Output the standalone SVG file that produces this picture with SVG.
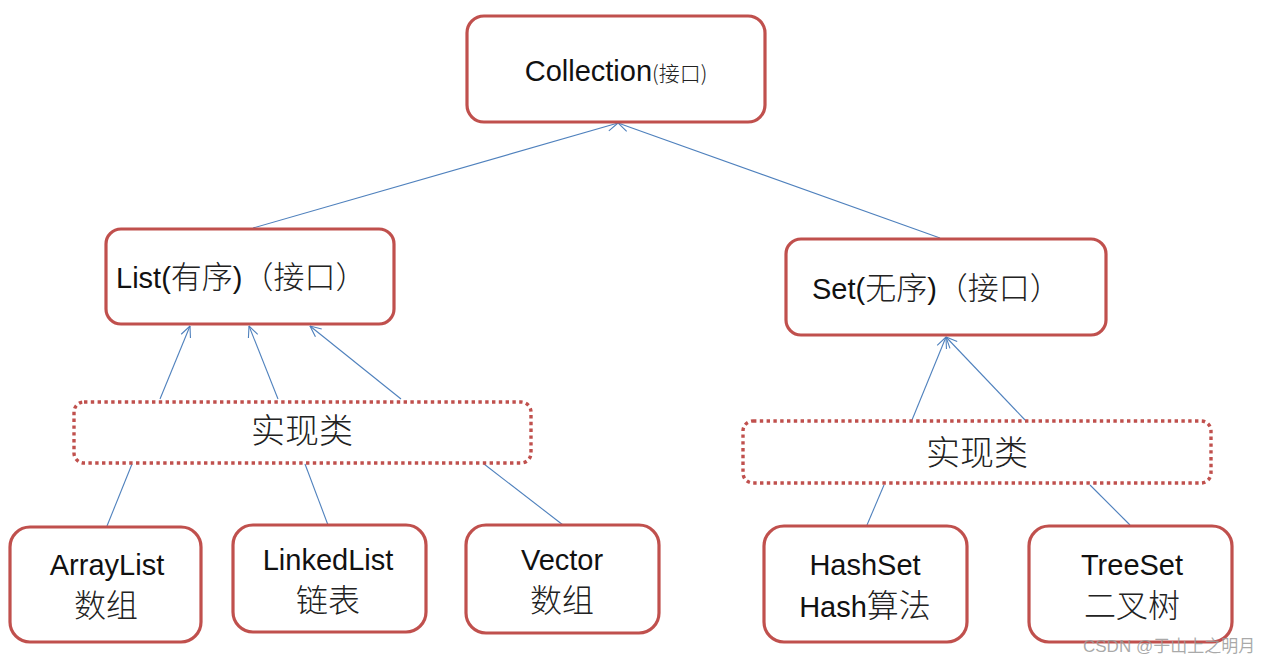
<svg xmlns="http://www.w3.org/2000/svg" width="1285" height="664" viewBox="0 0 1285 664">
<style>
.box{fill:#fff;stroke:#c0504d;stroke-width:3.2}
.dot{fill:#fff;stroke:#c0504d;stroke-width:3.4;stroke-dasharray:3.4 3.4}
.t{font-family:"Liberation Sans","Noto Sans CJK SC",sans-serif;font-size:29px;fill:#111}
.cj{font-family:"Noto Sans CJK SC",sans-serif;font-weight:300;fill:#222}
.c{text-anchor:middle}
.ln{stroke:#4f81bd;stroke-width:1.1;fill:none}
.ar{marker-end:url(#arr)}
</style>
<defs>
<marker id="arr" viewBox="0 0 12 12" refX="11.5" refY="6" markerWidth="12" markerHeight="12" markerUnits="userSpaceOnUse" orient="auto">
<path d="M0.5,1 L11.5,6 L0.5,11" fill="none" stroke="#4f81bd" stroke-width="1.1"/>
</marker>
</defs>
<rect width="1285" height="664" fill="#fff"/>
<g id="connectors">
<line class="ln ar" x1="253" y1="228" x2="618" y2="123"/>
<line class="ln ar" x1="940" y1="238" x2="618" y2="123"/>
<line class="ln ar" x1="160" y1="399" x2="190" y2="326"/>
<line class="ln ar" x1="278" y1="399" x2="249" y2="326"/>
<line class="ln ar" x1="401" y1="399" x2="310" y2="326"/>
<line class="ln" x1="132" y1="464" x2="107" y2="526"/>
<line class="ln" x1="305" y1="464" x2="328" y2="525"/>
<line class="ln" x1="484" y1="464" x2="563" y2="525"/>
<line class="ln ar" x1="912" y1="420" x2="946" y2="337"/>
<line class="ln ar" x1="1025" y1="420" x2="946" y2="337"/>
<line class="ln" x1="884" y1="485" x2="867" y2="525"/>
<line class="ln" x1="1090" y1="485" x2="1130" y2="525"/>
</g>
<g id="collection">
<rect class="box" x="467" y="16" width="298" height="106" rx="17"/>
<text class="t c" x="616" y="81" font-size="31">Collection<tspan class="cj" font-size="21">(接口)</tspan></text>
</g>
<g id="list">
<rect class="box" x="106" y="229" width="288" height="95" rx="15"/>
<text class="t" x="116" y="288" font-size="30">List(<tspan class="cj" font-size="31">有序</tspan>)<tspan class="cj" font-size="31">（接口）</tspan></text>
</g>
<g id="set">
<rect class="box" x="786" y="239" width="320" height="96" rx="15"/>
<text class="t" x="812" y="299" font-size="30">Set(<tspan class="cj" font-size="31">无序</tspan>)<tspan class="cj" font-size="31">（接口）</tspan></text>
</g>
<g id="impl-list">
<rect class="dot" x="74" y="402" width="457" height="61" rx="10"/>
<text class="cj c" x="302" y="443" font-size="34">实现类</text>
</g>
<g id="impl-set">
<rect class="dot" x="743" y="421" width="468" height="62" rx="10"/>
<text class="cj c" x="977" y="465" font-size="34">实现类</text>
</g>
<g id="arraylist">
<rect class="box" x="10" y="527" width="191" height="115" rx="20"/>
<text class="t c" x="107" y="575">ArrayList</text>
<text class="cj c" x="106" y="617" font-size="32">数组</text>
</g>
<g id="linkedlist">
<rect class="box" x="233" y="525" width="193" height="107" rx="20"/>
<text class="t c" x="328" y="570">LinkedList</text>
<text class="cj c" x="328" y="612" font-size="32">链表</text>
</g>
<g id="vector">
<rect class="box" x="466" y="525" width="193" height="108" rx="20"/>
<text class="t c" x="562" y="570">Vector</text>
<text class="cj c" x="562" y="612" font-size="32">数组</text>
</g>
<g id="hashset">
<rect class="box" x="764" y="526" width="203" height="116" rx="20"/>
<text class="t c" x="865" y="575">HashSet</text>
<text class="t c" x="865" y="617">Hash<tspan class="cj" font-size="32">算法</tspan></text>
</g>
<g id="treeset">
<rect class="box" x="1029" y="526" width="203" height="116" rx="20"/>
<text class="t c" x="1132" y="575">TreeSet</text>
<text class="cj c" x="1132" y="617" font-size="32">二叉树</text>
</g>
<text x="1083" y="652" font-family="Liberation Sans,Noto Sans CJK SC,sans-serif" font-size="17" fill="#9a9a9a" fill-opacity="0.85">CSDN @于山上之明月</text>
</svg>
